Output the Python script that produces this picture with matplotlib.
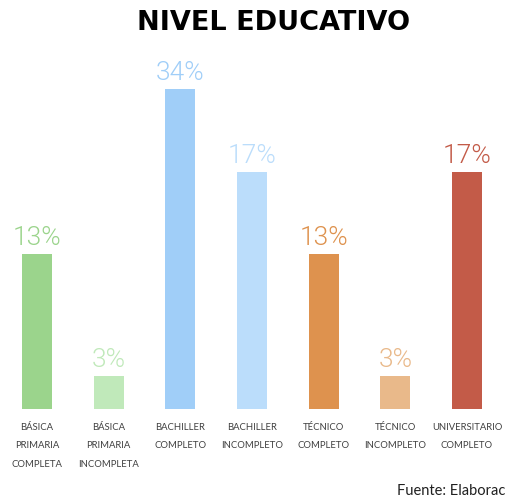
import matplotlib
matplotlib.use('Agg')
import matplotlib.pyplot as plt

categories = ["BÁSICA\nPRIMARIA\nCOMPLETA", "BÁSICA\nPRIMARIA\nINCOMPLETA",
              "BACHILLER\nCOMPLETO", "BACHILLER\nINCOMPLETO",
              "TÉCNICO\nCOMPLETO", "TÉCNICO\nINCOMPLETO",
              "UNIVERSITARIO\nCOMPLETO"]
labels = ["13%", "3%", "34%", "17%", "13%", "3%", "17%"]
# bar lengths as drawn in the source (not proportional to the labels)
bar_values = [16.5, 3.5, 34, 25.2, 16.5, 3.5, 25.2]
colors = ["#9BD48C", "#C0E9BA", "#A0CEF8", "#BBDDFB", "#DE924E", "#E9B98A", "#C35B48"]

fig = plt.figure(figsize=(5.06, 4.99), dpi=100)
ax = fig.add_axes([0, 90 / 499, 1, 320 / 499])

x = range(len(categories))
ax.bar(x, bar_values, width=0.42, color=colors)
ax.set_xlim(-0.516, 6.544)
ax.set_ylim(0, 34)

for i, (v, lab, c) in enumerate(zip(bar_values, labels, colors)):
    ax.annotate(lab, (i, v), xytext=(0, 3), textcoords="offset points",
                ha="center", va="bottom", fontsize=19, color=c,
                family="Roboto", fontweight=300)

ax.set_xticks(list(x))
ax.set_xticklabels(categories, fontsize=6.8, color="#404040", linespacing=2.35,
                   family="Lato")
ax.tick_params(axis="x", length=0, pad=10)
ax.set_yticks([])
for s in ax.spines.values():
    s.set_visible(False)

fig.text(274 / 506, 1 - 23 / 499, "NIVEL EDUCATIVO", ha="center", va="center",
         fontsize=19.5, fontweight="bold", color="black", family="DejaVu Sans")
fig.text(397 / 506, 1 - 491 / 499, "Fuente: Elaboración propia", ha="left",
         va="center", fontsize=10.5, color="#202020", family="Lato")

fig.savefig("out.png", dpi=100)
